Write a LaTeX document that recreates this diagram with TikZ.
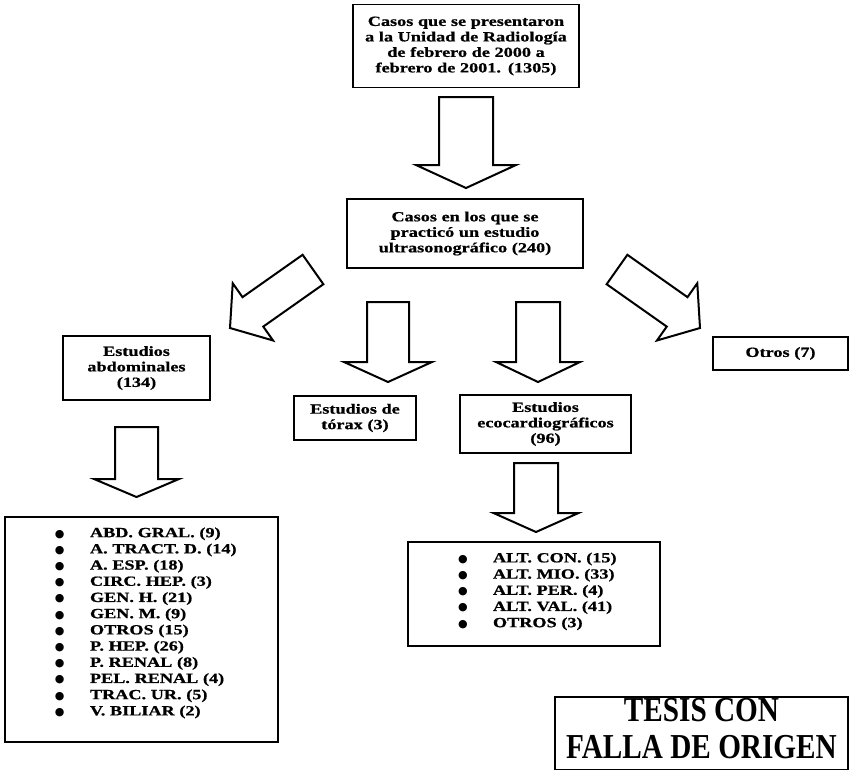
\documentclass[tikz,border=0pt]{standalone}
\usepackage{fontspec}
\usetikzlibrary{calc}
\newfontfamily\boxfont[FakeStretch=1.3,FakeBold=0.8]{Liberation Serif}
\newfontfamily\stampfont[FakeStretch=0.835]{Liberation Serif}
\newfontfamily\dotfont{DejaVu Sans}
% hollow block arrow: tail, tip, half shaft, half head, head length
\newcommand{\blockarrow}[5]{%
  \coordinate (neck) at ($(#2)!#5!(#1)$);
  \draw[hollow] ($(#1)!#3!90:(#2)$) -- ($(neck)!#3!-90:(#1)$) -- ($(neck)!#4!-90:(#1)$) -- (#2)
    -- ($(neck)!#4!90:(#1)$) -- ($(neck)!#3!90:(#1)$) -- ($(#1)!#3!-90:(#2)$) -- cycle;}
\newcommand{\itemline}[1]{\hspace*{50pt}\makebox[35pt][l]{\raisebox{0pt}[0pt][0pt]{\dotfont\fontsize{11}{0}\selectfont ●}}#1}

\begin{document}
\begin{tikzpicture}[x=1pt, y=-1pt,
  box/.style={draw, rectangle, line width=1.6pt, inner sep=0pt, align=center, font=\boxfont\bfseries\fontsize{14}{15.5}\selectfont},
  listbox/.style={draw, rectangle, line width=1.6pt, inner sep=0pt, align=left, font=\boxfont\bfseries\fontsize{14}{16.2}\selectfont},
  hollow/.style={draw, line width=2pt, line join=miter}]
\useasboundingbox (0,0) rectangle (850,769);

\node[box, minimum width=226pt, minimum height=83pt, text width=220pt] (casos) at (466,46) {Casos que se presentaron\\a la Unidad de Radiología\\de febrero de 2000 a\\febrero de 2001. (1305)};
\node[box, minimum width=236pt, minimum height=69pt, text width=230pt] (ultra) at (465,233.5) {Casos en los que se\\practicó un estudio\\ultrasonográfico (240)};
\node[box, minimum width=147pt, minimum height=64pt, text width=140pt] (abd) at (136.5,368) {Estudios\\abdominales\\(134)};
\node[box, minimum width=122pt, minimum height=44pt, text width=116pt] (torax) at (355,418) {Estudios de\\tórax (3)};
\node[box, minimum width=171pt, minimum height=58pt, text width=165pt] (eco) at (545.5,424) {Estudios\\ecocardiográficos\\(96)};
\node[box, minimum width=135pt, minimum height=33pt, text width=129pt] (otros) at (780.5,353.5) {Otros (7)};

\node[listbox, minimum width=273pt, minimum height=225pt, text width=273pt] (abdlist) at (141.5,629.5) {%
  \itemline{ABD. GRAL. (9)}\\\itemline{A. TRACT. D. (14)}\\\itemline{A. ESP. (18)}\\
  \itemline{CIRC. HEP. (3)}\\\itemline{GEN. H. (21)}\\\itemline{GEN. M. (9)}\\
  \itemline{OTROS (15)}\\\itemline{P. HEP. (26)}\\\itemline{P. RENAL (8)}\\
  \itemline{PEL. RENAL (4)}\\\itemline{TRAC. UR. (5)}\\\itemline{V. BILIAR (2)}\\ \mbox{}};
\node[listbox, minimum width=252pt, minimum height=104pt, text width=252pt] (ecolist) at (534,594) {%
  \itemline{ALT. CON. (15)}\\\itemline{ALT. MIO. (33)}\\\itemline{ALT. PER. (4)}\\
  \itemline{ALT. VAL. (41)}\\\itemline{OTROS (3)}\\[-8pt]\mbox{}};

\node[draw, line width=2pt, anchor=north, minimum width=293pt, inner xsep=0pt, inner ysep=1pt, align=center,
  font=\stampfont\bfseries\fontsize{35}{37}\selectfont] (tesis) at (701.5,696) {TESIS CON\\FALLA DE ORIGEN\strut};

% block arrows between the boxes
\coordinate (from1) at (466,97);    \coordinate (to1) at (466,188);
\coordinate (from2) at (313,269.5); \coordinate (to2) at (230,328);
\coordinate (from3) at (388,302);   \coordinate (to3) at (388,382);
\coordinate (from4) at (538,302);   \coordinate (to4) at (538,382);
\coordinate (from5) at (617,269.5); \coordinate (to5) at (700,328);
\coordinate (from6) at (136.5,427); \coordinate (to6) at (136.5,497);
\coordinate (from7) at (536,463);   \coordinate (to7) at (536,532);
\blockarrow{from1}{to1}{27pt}{50pt}{23pt}
\blockarrow{from2}{to2}{18pt}{35pt}{28pt}
\blockarrow{from3}{to3}{21pt}{44pt}{20pt}
\blockarrow{from4}{to4}{22pt}{42pt}{20pt}
\blockarrow{from5}{to5}{18pt}{35pt}{28pt}
\blockarrow{from6}{to6}{21.5pt}{42.5pt}{18pt}
\blockarrow{from7}{to7}{22pt}{42.5pt}{19pt}
\end{tikzpicture}
\end{document}
